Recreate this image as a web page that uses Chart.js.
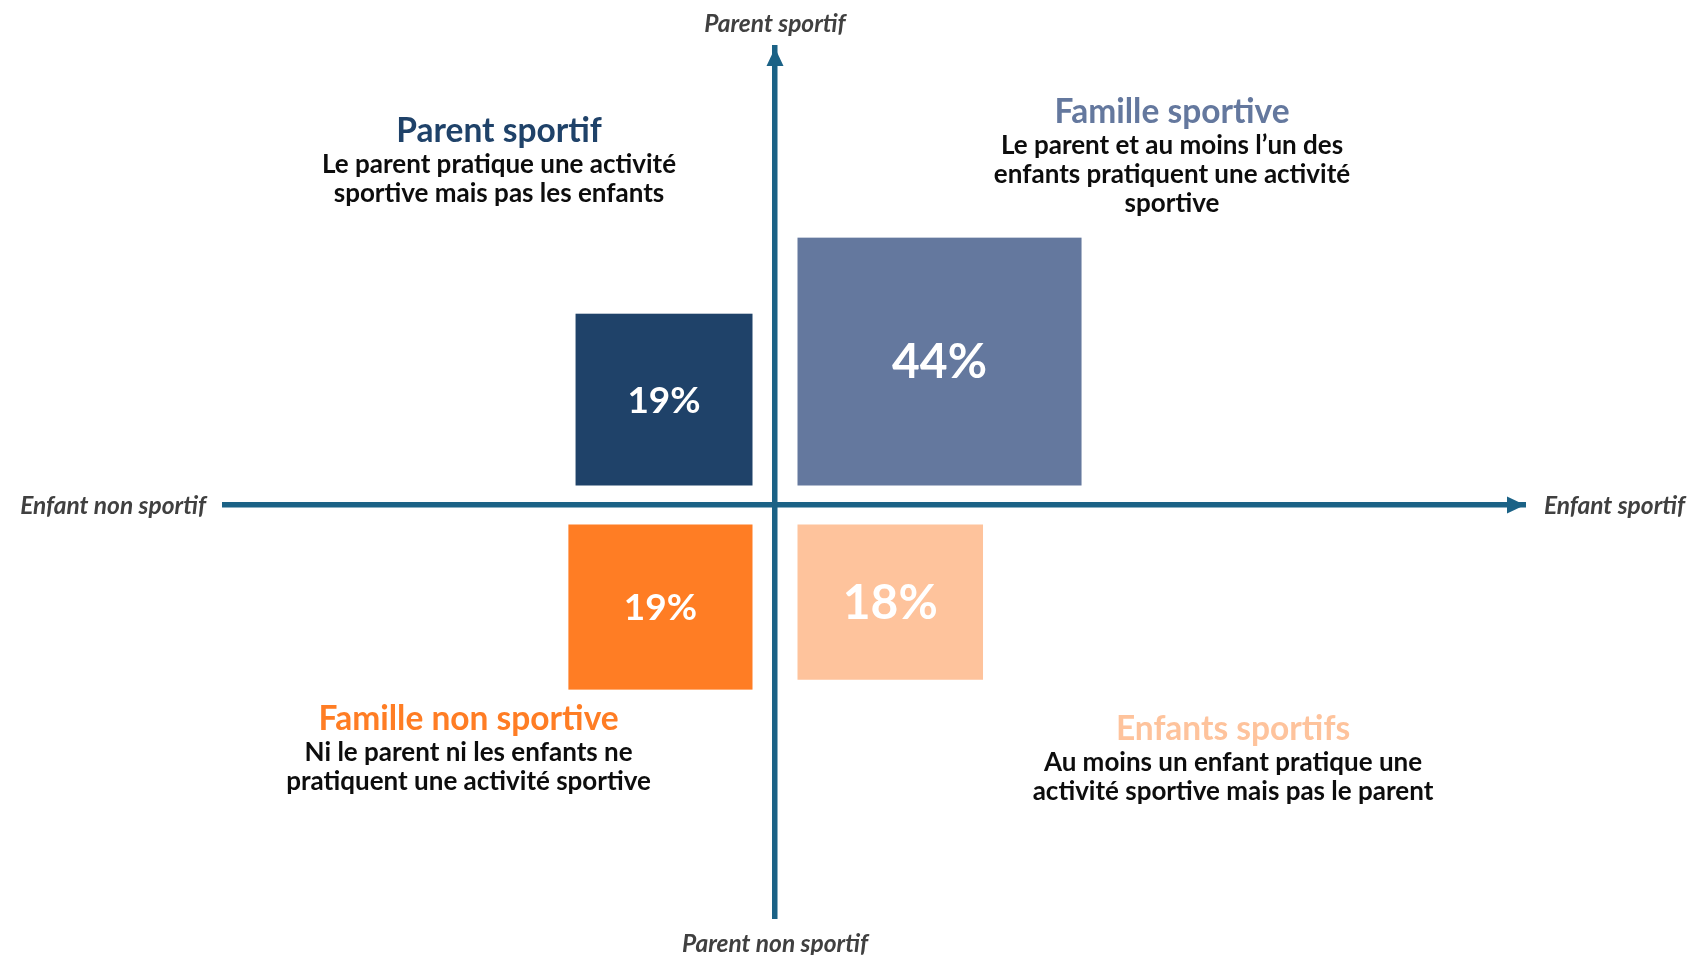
<!DOCTYPE html>
<html lang="fr">
<head>
<meta charset="utf-8">
<title>Profils sportifs des familles</title>
<script src="https://cdn.jsdelivr.net/npm/chart.js@4.4.1/dist/chart.umd.min.js"></script>
<style>
    html, body { margin: 0; padding: 0; background: #fff; }
    #wrap { width: 1689px; height: 955px; position: relative; }
</style>
</head>
<body>
<div id="wrap"><canvas id="quadrantChart"></canvas></div>
<script>

// segments, clockwise from top-left quadrant
const segments = ["Parent sportif", "Famille sportive", "Famille non sportive", "Enfants sportifs"];
const shares = [19, 44, 19, 18];
const descriptions = [
    ["Le parent pratique une activité", "sportive mais pas les enfants"],
    ["Le parent et au moins l’un des", "enfants pratiquent une activité", "sportive"],
    ["Ni le parent ni les enfants ne", "pratiquent une activité sportive"],
    ["Au moins un enfant pratique une", "activité sportive mais pas le parent"]
];
const xAxisLabels = ["Enfant non sportif", "Enfant sportif"];
const yAxisLabels = ["Parent non sportif", "Parent sportif"];

// axis units: a box of side 1 holds 1% (area follows the share)
const AXIS_COLOR = "#1B6286";
const GAP_X = 0.5625;
const GAP_Y = 0.4875;

const boxStyles = [
    { qx: -1, qy: 1, aspect: 1.03, color: "#1F4269", labelSize: 37, tx: -6.9, ty: 9.34 },
    { qx: 1, qy: 1, aspect: 1.146, color: "#64789E", labelSize: 48, tx: 9.925, ty: 9.825 },
    { qx: -1, qy: -1, aspect: 1.115, color: "#FF7D24", labelSize: 37, tx: -7.66, ty: -5.365 },
    { qx: 1, qy: -1, aspect: 1.195, color: "#FEC39C", labelSize: 48, tx: 11.45, ty: -5.6 }
];

const quadrantPlugin = {

    id: "quadrants",

    afterDatasetsDraw(chart){

        const { ctx, chartArea, scales: { x, y } } = chart;

        ctx.save();

        // arrow heads on the positive ends
        ctx.fillStyle = AXIS_COLOR;
        const xTip = x.getPixelForValue(x.max);
        const yAxisPx = y.getPixelForValue(0);
        ctx.beginPath();
        ctx.moveTo(xTip, yAxisPx);
        ctx.lineTo(xTip - 18, yAxisPx - 8.5);
        ctx.lineTo(xTip - 18, yAxisPx + 8.5);
        ctx.closePath();
        ctx.fill();

        const yTip = y.getPixelForValue(y.max);
        const xAxisPx = x.getPixelForValue(0);
        ctx.beginPath();
        ctx.moveTo(xAxisPx, yTip);
        ctx.lineTo(xAxisPx - 8.5, yTip + 18);
        ctx.lineTo(xAxisPx + 8.5, yTip + 18);
        ctx.closePath();
        ctx.fill();

        // boxes, value labels and quadrant texts
        shares.forEach((share, i) => {

            const st = boxStyles[i];
            const w = Math.sqrt(share * st.aspect);
            const h = Math.sqrt(share / st.aspect);
            const left = st.qx > 0 ? GAP_X : -GAP_X - w;
            const bottom = st.qy > 0 ? GAP_Y : -GAP_Y - h;

            const px1 = x.getPixelForValue(left);
            const px2 = x.getPixelForValue(left + w);
            const py1 = y.getPixelForValue(bottom + h);
            const py2 = y.getPixelForValue(bottom);

            ctx.fillStyle = st.color;
            ctx.fillRect(px1, py1, px2 - px1, py2 - py1);

            ctx.fillStyle = "#FFFFFF";
            ctx.font = `700 ${st.labelSize}px Lato`;
            ctx.textAlign = "center";
            ctx.textBaseline = "middle";
            ctx.fillText(share + "%", (px1 + px2) / 2, (py1 + py2) / 2 + 1);

            const cx = x.getPixelForValue(st.tx);
            const cy = y.getPixelForValue(st.ty);

            ctx.fillStyle = st.color;
            ctx.font = "700 33.5px Lato";
            ctx.fillText(segments[i], cx, cy);

            ctx.fillStyle = "#0D0D0D";
            ctx.font = "700 26px Lato";
            descriptions[i].forEach((line, j) => {
                ctx.fillText(line, cx, cy + 33.5 + j * 29);
            });

        });

        // axis end labels
        ctx.fillStyle = "#404040";
        ctx.font = "italic 700 24.5px Lato";
        ctx.textBaseline = "middle";

        ctx.textAlign = "right";
        ctx.fillText(xAxisLabels[0], chartArea.left - 19, yAxisPx + 1);
        ctx.textAlign = "left";
        ctx.fillText(xAxisLabels[1], chartArea.right + 19, yAxisPx + 1);

        ctx.textAlign = "center";
        ctx.fillText(yAxisLabels[1], xAxisPx, chartArea.top - 24);
        ctx.fillText(yAxisLabels[0], xAxisPx, chartArea.bottom + 26);

        ctx.restore();

    }

};

const chart = new Chart(document.getElementById("quadrantChart"), {

    type: "scatter",

    data: {
        datasets: []
    },

    options: {

        responsive: true,
        maintainAspectRatio: false,
        animation: false,

        layout: {
            padding: { left: 225, right: 164, top: 48, bottom: 37 }
        },

        plugins: {
            legend: { display: false },
            tooltip: { enabled: false }
        },

        scales: {

            x: {
                type: "linear",
                min: -13.75,
                max: 18.75,
                position: { y: 0 },
                grid: { display: false },
                ticks: { display: false },
                border: { display: true, color: AXIS_COLOR, width: 5.5 }
            },

            y: {
                type: "linear",
                min: -10.325,
                max: 11.425,
                position: { x: 0 },
                grid: { display: false },
                ticks: { display: false },
                border: { display: true, color: AXIS_COLOR, width: 5.5 }
            }

        }

    },

    plugins: [quadrantPlugin]

});

</script>
</body>
</html>
